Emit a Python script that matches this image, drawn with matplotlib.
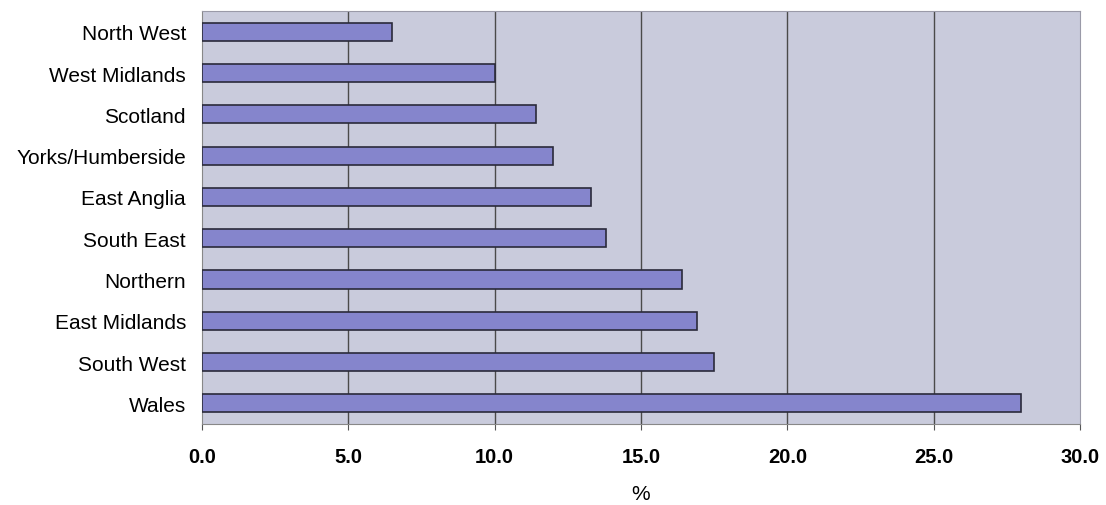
import matplotlib
matplotlib.use("Agg")
import matplotlib.pyplot as plt

plt.rcParams['font.family'] = ['Liberation Sans', 'DejaVu Sans']

regions = ["North West", "West Midlands", "Scotland", "Yorks/Humberside",
           "East Anglia", "South East", "Northern", "East Midlands",
           "South West", "Wales"]
values = [6.5, 10.0, 11.4, 12.0, 13.3, 13.8, 16.4, 16.9, 17.5, 28.0]
xticks = [0, 5, 10, 15, 20, 25, 30]

fig = plt.figure(figsize=(11.06, 5.06), dpi=100)
ax = fig.add_axes([0.1826, 0.16, 0.7939, 0.816])
ax.set_facecolor('#c9cbdc')

ax.barh(range(len(regions)), values, height=0.44, color='#8585cc',
        edgecolor='#2a2a3a', linewidth=1.2, zorder=3)

ax.set_xlim(0, 30)
ax.set_ylim(len(regions) - 0.5, -0.5)
ax.set_xticks(xticks)
ax.set_xticklabels([f"{t:.1f}" for t in xticks], fontsize=14.5, fontweight='bold')
ax.set_yticks(range(len(regions)))
ax.set_yticklabels(regions, fontsize=15)
ax.tick_params(axis='y', length=0, pad=11.5)
ax.tick_params(axis='x', length=4, pad=12.5, color='#555555')

# vertical gridlines at the inner ticks
for t in xticks[1:-1]:
    ax.axvline(t, color='#4a4a4a', linewidth=1.0, zorder=1)

for side in ['top', 'right']:
    ax.spines[side].set_color('#9a9aa8')
for side in ['left', 'bottom']:
    ax.spines[side].set_color('#888888')

ax.set_xlabel('%', fontsize=15, labelpad=13)

fig.savefig('out.png', dpi=100)
